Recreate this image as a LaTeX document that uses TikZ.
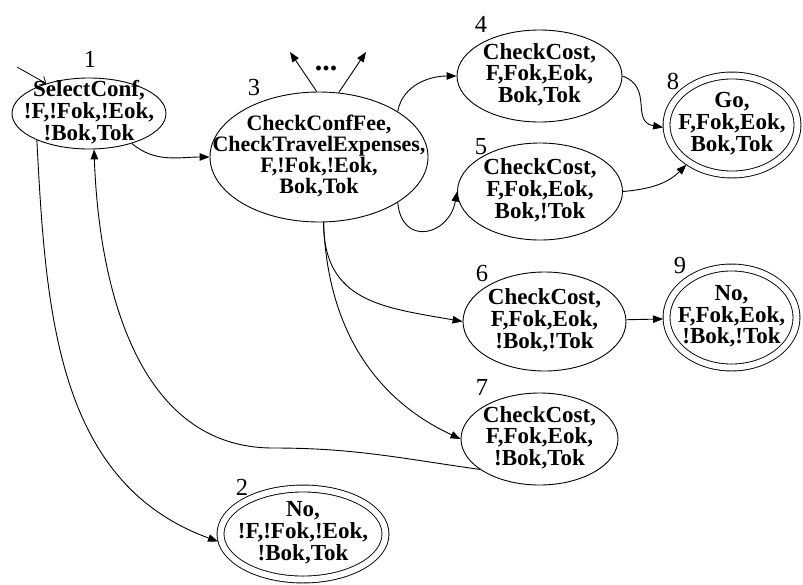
\documentclass[tikz,border=0pt]{standalone}
\usepackage{fontspec}
\setmainfont{Liberation Serif}
\usepackage{tikz}
\usetikzlibrary{positioning, arrows.meta, shapes.geometric}

\newcommand{\statelines}[1]{\makebox[0pt]{\raisebox{\dimexpr(\depth-\height)/2\relax}[0pt][0pt]{%
  \begin{tabular}{@{}c@{}}#1\end{tabular}}}}

\tikzset{
  state/.style={draw, ellipse, line width=0.9pt, inner sep=0pt,
                font=\bfseries\fontsize{23}{20}\selectfont},
  final/.style={state, double, double distance=6pt, outer sep=3.5pt},
  numlabel/.style={font=\fontsize{24.5}{24}\selectfont, inner sep=0pt},
  edge/.style={-{Triangle[length=10pt,width=7.5pt]}, line width=0.9pt},
  startedge/.style={-{Straight Barb[length=5pt,width=10pt]}, line width=0.8pt}
}

\begin{document}
\begin{tikzpicture}[x=1pt, y=-1pt]
  \useasboundingbox (0,0) rectangle (803,584);

  % states
  \node[state, minimum width=154pt, minimum height=71pt] (s1) at (89,113.5)
    {\statelines{SelectConf,\\!F,!Fok,!Eok,\\!Bok,Tok}};
  \node[final, minimum width=165pt, minimum height=91pt] (s2) at (303,534)
    {\statelines{No,\\!F,!Fok,!Eok,\\!Bok,Tok}};
  \node[state, minimum width=218pt, minimum height=130pt,
        font=\bfseries\fontsize{22}{19.5}\selectfont] (s3) at (319,157)
    {\statelines{CheckConfFee,\\CheckTravelExpenses,\\F,!Fok,!Eok,\\Bok,Tok}};
  \node[state, minimum width=165pt, minimum height=92pt] (s4) at (539.5,76)
    {\statelines{CheckCost,\\F,Fok,Eok,\\Bok,Tok}};
  \node[state, minimum width=165pt, minimum height=97pt] (s5) at (540,191.5)
    {\statelines{CheckCost,\\F,Fok,Eok,\\Bok,!Tok}};
  \node[state, minimum width=163pt, minimum height=99pt] (s6) at (544.5,321.5)
    {\statelines{CheckCost,\\F,Fok,Eok,\\!Bok,!Tok}};
  \node[state, minimum width=157pt, minimum height=92pt] (s7) at (539.5,439)
    {\statelines{CheckCost,\\F,Fok,Eok,\\!Bok,Tok}};
  \node[final, minimum width=131pt, minimum height=99pt] (s8) at (732,125)
    {\statelines{Go,\\F,Fok,Eok,\\Bok,Tok}};
  \node[final, minimum width=130pt, minimum height=100pt] (s9) at (731.5,317.5)
    {\statelines{No,\\F,Fok,Eok,\\!Bok,!Tok}};

  % state numbers
  \node[numlabel] (l1) at (90,59) {1};
  \node[numlabel] (l2) at (242,487) {2};
  \node[numlabel] (l3) at (254,88) {3};
  \node[numlabel] (l4) at (481,24) {4};
  \node[numlabel] (l5) at (481,147) {5};
  \node[numlabel] (l6) at (482,274) {6};
  \node[numlabel] (l7) at (482,387) {7};
  \node[numlabel] (l8) at (673,81) {8};
  \node[numlabel] (l9) at (680,266) {9};

  \coordinate (init) at (17,67);
  \coordinate (up1) at (290,52);
  \coordinate (up2) at (366,52);
  \coordinate (back) at (273,448);
  \node[font=\bfseries\fontsize{30}{30}\selectfont, inner sep=0pt] (more) at (326,68) {...};

  % transitions
  \draw[startedge] (init) -- (s1.145);
  \draw[edge] (s1.-35) to[out=-40, in=180] (s3.west);
  \draw[edge] (s1.-153) to[out=-87, in=160] (s2.185);
  \draw[edge] (s7.207) to[out=172, in=0] (back) to[out=180, in=-88] (s1.-82);
  \draw[edge] (s3.92) -- (up1);
  \draw[edge] (s3.73.5) -- (up2);
  \draw[edge] (s3.30) to[out=80, in=180] (s4.west);
  \draw[edge] (s3.-30) to[out=-85, in=-100, looseness=1.9] (s5.west);
  \draw[edge] (s3.-86) to[out=-90, in=170, looseness=1.2] (s6.west);
  \draw[edge] (s3.-86) to[out=-88, in=155] (s7.west);
  \draw[edge] (s4.east) to[out=-20, in=170, looseness=1.3] (s8.182);
  \draw[edge] (s5.east) to[out=5, in=225] (s8.221);
  \draw[edge] (s6) -- (s9);
\end{tikzpicture}
\end{document}
